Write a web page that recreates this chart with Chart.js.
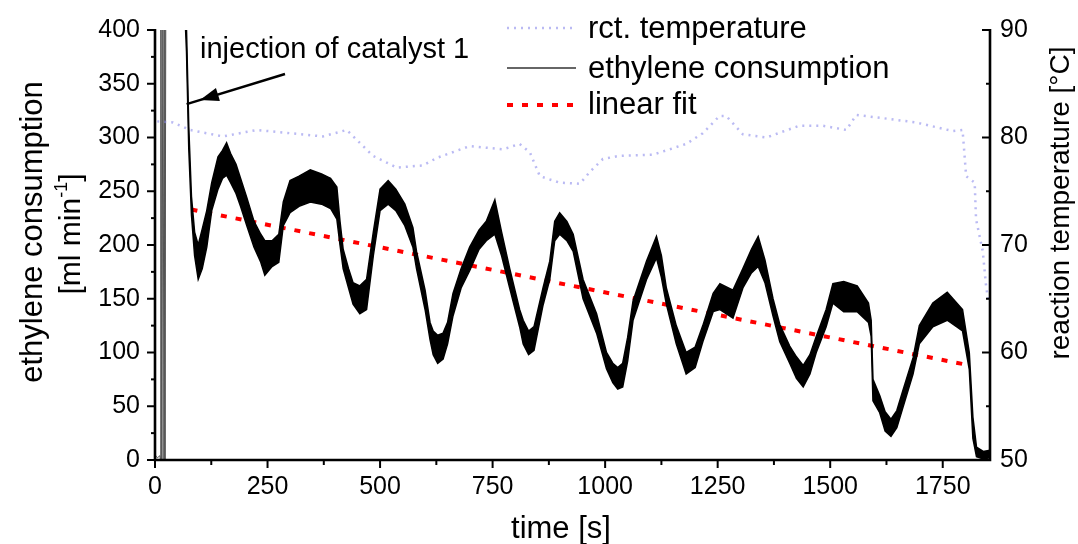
<!DOCTYPE html>
<html>
<head>
<meta charset="utf-8">
<script src="https://cdn.jsdelivr.net/npm/chart.js@4.4.1/dist/chart.umd.min.js"></script>
<style>
  html, body { margin: 0; padding: 0; background: #fff; }
  canvas { display: block; }
</style>
</head>
<body>
<canvas id="c" width="1078" height="544"></canvas>
<script>
// ── data ─────────────────────────────────────────────────────────
// start-up spikes before injection (thin grey lines)
const spikeTime = [0, 5, 11, 12, 13, 14, 16, 18, 20, 22, 24];
const spikeVal  = [5, 2, 4, 0, 420, 0, 420, 0, 420, 0, 420];

// ethylene consumption, noisy band: lower / upper edge
const timeE = [66, 70, 75, 81, 88, 96, 105, 115, 126, 140, 150, 159, 168, 180, 190, 204, 220, 235, 244, 260,
  275, 285, 300, 320, 345, 370, 390, 404, 411, 418, 430, 440, 455, 470, 485, 500, 518, 535, 555, 573,
  581, 600, 611, 618, 628, 640, 650, 662, 680, 699, 720, 736, 755, 770, 788, 810, 818, 830, 842, 862,
  877, 888, 899, 915, 929, 951, 981, 1003, 1017, 1028, 1039, 1050, 1062, 1092, 1114, 1125, 1136, 1158, 1180, 1200,
  1217, 1240, 1255, 1284, 1306, 1325, 1340, 1355, 1373, 1388, 1410, 1425, 1440, 1455, 1469, 1491, 1506, 1530, 1560, 1585,
  1591, 1595, 1610, 1622, 1635, 1648, 1661, 1684, 1698, 1728, 1760, 1794, 1809, 1817, 1825, 1840, 1855];
const lowE = [420, 380, 290, 228, 190, 168, 178, 198, 232, 252, 262, 265, 258, 248, 236, 218, 198, 184, 172, 180,
  184, 218, 230, 236, 240, 238, 234, 224, 200, 178, 160, 145, 136, 140, 190, 232, 238, 232, 218, 198,
  178, 140, 112, 98, 90, 94, 108, 134, 160, 176, 196, 204, 210, 190, 160, 124, 108, 98, 102, 144,
  168, 204, 210, 204, 194, 150, 118, 85, 72, 66, 68, 92, 130, 168, 188, 170, 145, 108, 80, 86,
  110, 138, 140, 132, 160, 174, 180, 165, 134, 110, 90, 76, 68, 80, 100, 124, 146, 138, 138, 128,
  115, 55, 44, 27, 22, 30, 48, 80, 108, 124, 130, 120, 84, 20, 3, 1, 2];
const highE = [430, 400, 310, 245, 212, 200, 215, 232, 258, 282, 288, 295, 285, 275, 262, 244, 222, 210, 204, 204,
  210, 240, 260, 264, 270, 266, 262, 254, 222, 196, 178, 165, 162, 168, 212, 252, 260, 252, 238, 216,
  194, 158, 128, 120, 116, 118, 128, 155, 178, 198, 214, 222, 242, 212, 178, 140, 130, 120, 124, 160,
  185, 222, 230, 222, 210, 168, 136, 100, 90, 86, 90, 114, 148, 185, 208, 190, 160, 125, 100, 105,
  125, 155, 164, 158, 178, 196, 208, 186, 150, 126, 106, 96, 88, 98, 115, 140, 164, 166, 162, 146,
  130, 75, 60, 45, 38, 46, 64, 95, 125, 146, 156, 140, 100, 40, 12, 8, 9];

// reaction temperature (right axis, °C)
const timeT = [5, 40, 78, 151, 226, 300, 373, 426, 484, 537, 595, 626, 699, 773, 810, 833, 855, 899, 944, 966,
  995, 1032, 1106, 1180, 1217, 1254, 1269, 1306, 1358, 1432, 1483, 1536, 1558, 1617, 1691, 1772, 1794, 1798, 1802, 1821,
  1824, 1839, 1846, 1852];
const tempT = [81.5, 81.4, 80.7, 80.1, 80.7, 80.4, 80.1, 80.7, 78.3, 77.2, 77.4, 78.1, 79.2, 78.9, 79.4, 78.6, 76.4, 75.8, 75.7, 76.8,
  78.0, 78.3, 78.4, 79.4, 80.4, 82.0, 82.0, 80.3, 80.0, 81.1, 81.1, 80.7, 82.1, 81.8, 81.4, 80.6, 80.7, 78.6, 76.4, 75.8,
  72.4, 69.4, 66.3, 64.5];

// linear fit end points
const fitTime = [81, 1798];
const fitVal  = [233, 89];

const xTicks  = [0, 250, 500, 750, 1000, 1250, 1500, 1750];
const yTicks  = [0, 50, 100, 150, 200, 250, 300, 350, 400];
const y2Ticks = [50, 60, 70, 80, 90];

const legendItems = ['rct. temperature', 'ethylene consumption', 'linear fit'];

// ── helpers ──────────────────────────────────────────────────────
const pts = (xs, ys) => xs.map((t, i) => ({ x: t, y: ys[i] }));
const FONT = '"Liberation Sans", Arial, Helvetica, sans-serif';
const TEMP_COLOR = 'rgba(140,140,235,0.6)';

Chart.defaults.font.family = FONT;
Chart.defaults.color = '#000';

// axis lines, tick marks, titles, legend, annotation
const decor = {
  id: 'decor',
  afterDraw(chart) {
    const { ctx, chartArea: a, scales: { x, y, y2 } } = chart;
    const seg = (x1, y1, x2, y2_) => { ctx.beginPath(); ctx.moveTo(x1, y1); ctx.lineTo(x2, y2_); ctx.stroke(); };
    ctx.save();
    ctx.strokeStyle = '#000';
    ctx.lineCap = 'butt';

    // ticks
    ctx.lineWidth = 2;
    x.ticks.forEach(t => {
      const p = x.getPixelForValue(t.value);
      seg(p, a.bottom, p, a.bottom + (xTicks.includes(t.value) ? 8 : 5));
    });
    y.ticks.forEach(t => {
      const p = y.getPixelForValue(t.value);
      seg(a.left, p, a.left - (yTicks.includes(t.value) ? 8 : 4), p);
    });
    y2.ticks.forEach(t => {
      const p = y2.getPixelForValue(t.value);
      seg(a.right, p, a.right - (y2Ticks.includes(t.value) ? 8 : 4), p);
    });

    // axis lines (no top frame)
    ctx.lineWidth = 2.6;
    ctx.beginPath();
    ctx.moveTo(a.left, a.top - 1);
    ctx.lineTo(a.left, a.bottom);
    ctx.lineTo(a.right, a.bottom);
    ctx.lineTo(a.right, a.top - 1);
    ctx.stroke();

    // axis titles
    ctx.fillStyle = '#000';
    ctx.textAlign = 'center';
    ctx.textBaseline = 'alphabetic';
    ctx.font = `31px ${FONT}`;
    ctx.fillText('time [s]', 561, 538);

    ctx.save();
    ctx.translate(42, 232);
    ctx.rotate(-Math.PI / 2);
    ctx.fillText('ethylene consumption', 0, 0);
    ctx.restore();

    // second line with superscript -1
    ctx.save();
    ctx.translate(80, 234);
    ctx.rotate(-Math.PI / 2);
    const main = '[ml min', sup = '-1', tail = ']';
    ctx.font = `30px ${FONT}`;
    const wMain = ctx.measureText(main).width, wTail = ctx.measureText(tail).width;
    ctx.font = `18px ${FONT}`;
    const wSup = ctx.measureText(sup).width;
    let cx = -(wMain + wSup + wTail) / 2;
    ctx.textAlign = 'left';
    ctx.font = `30px ${FONT}`;
    ctx.fillText(main, cx, 0); cx += wMain;
    ctx.font = `18px ${FONT}`;
    ctx.fillText(sup, cx, -13); cx += wSup;
    ctx.font = `30px ${FONT}`;
    ctx.fillText(tail, cx, 0);
    ctx.restore();

    ctx.save();
    ctx.textAlign = 'center';
    ctx.font = `28px ${FONT}`;
    ctx.translate(1069, 203);
    ctx.rotate(-Math.PI / 2);
    ctx.fillText('reaction temperature [°C]', 0, 0);
    ctx.restore();

    // legend
    const lx0 = 507, lx1 = 576, tx = 588;
    const rows = [
      { yl: 28, yt: 38, dash: [2, 5], w: 2.5, c: TEMP_COLOR },
      { yl: 68, yt: 78, dash: [], w: 1.5, c: '#333' },
      { yl: 105, yt: 114, dash: [6, 9], w: 4, c: '#ff0000' }
    ];
    rows.forEach((r, i) => {
      ctx.save();
      ctx.strokeStyle = r.c; ctx.lineWidth = r.w; ctx.setLineDash(r.dash);
      seg(lx0, r.yl, lx1, r.yl);
      ctx.restore();
      ctx.textAlign = 'left';
      ctx.font = `31px ${FONT}`;
      ctx.fillText(legendItems[i], tx, r.yt);
    });

    // annotation with arrow
    ctx.font = `29px ${FONT}`;
    ctx.textAlign = 'left';
    ctx.fillText('injection of catalyst 1', 200, 58);
    const ax0 = 285, ay0 = 74, ax1 = 200, ay1 = 100;
    const ang = Math.atan2(ay1 - ay0, ax1 - ax0);
    ctx.lineWidth = 2.5;
    seg(ax0, ay0, ax1 + 14 * Math.cos(ang), ay1 + 14 * Math.sin(ang));
    ctx.beginPath();
    ctx.moveTo(ax1, ay1);
    ctx.lineTo(ax1 - 20 * Math.cos(ang - 0.35), ay1 - 20 * Math.sin(ang - 0.35));
    ctx.lineTo(ax1 - 20 * Math.cos(ang + 0.35), ay1 - 20 * Math.sin(ang + 0.35));
    ctx.closePath();
    ctx.fill();

    ctx.restore();
  }
};

new Chart(document.getElementById('c'), {
  type: 'line',
  data: {
    datasets: [
      { label: 'rct. temperature', data: pts(timeT, tempT), yAxisID: 'y2', borderColor: TEMP_COLOR, borderWidth: 2.5, borderDash: [2, 5], pointRadius: 0, fill: false },
      { label: 'start', data: pts(spikeTime, spikeVal), yAxisID: 'y', borderColor: '#555', borderWidth: 1, pointRadius: 0, fill: false },
      { label: 'ethylene low', data: pts(timeE, lowE), yAxisID: 'y', borderColor: '#000', borderWidth: 1.5, pointRadius: 0, fill: false },
      { label: 'ethylene consumption', data: pts(timeE, highE), yAxisID: 'y', borderColor: '#000', borderWidth: 1.5, pointRadius: 0, fill: '-1', backgroundColor: '#000' },
      { label: 'linear fit', data: pts(fitTime, fitVal), yAxisID: 'y', borderColor: '#ff0000', borderWidth: 4, borderDash: [6, 9], pointRadius: 0, fill: false }
    ]
  },
  options: {
    responsive: false,
    animation: false,
    devicePixelRatio: 1,
    layout: { padding: { top: 27, left: 0, right: 0, bottom: 0 } },
    plugins: { legend: { display: false }, tooltip: { enabled: false } },
    scales: {
      x: {
        type: 'linear', min: 0, max: 1855,
        grid: { display: false, drawTicks: false },
        border: { display: false },
        afterBuildTicks: s => { s.ticks = s.ticks.filter(t => t.value % 125 === 0); },
        afterFit: s => { s.height = 84; },
        ticks: { stepSize: 125, includeBounds: false, padding: 12, maxRotation: 0, autoSkip: false, font: { size: 25 },
          callback: v => xTicks.includes(v) ? String(v) : '' }
      },
      y: {
        position: 'left', min: 0, max: 400,
        grid: { display: false, drawTicks: false },
        border: { display: false },
        afterBuildTicks: s => { s.ticks = s.ticks.filter(t => t.value % 25 === 0); },
        afterFit: s => { s.width = 155; },
        ticks: { stepSize: 25, padding: 15, autoSkip: false, font: { size: 25 },
          callback: v => yTicks.includes(v) ? String(v) : '' }
      },
      y2: {
        position: 'right', min: 50, max: 90,
        grid: { display: false, drawTicks: false },
        border: { display: false },
        afterBuildTicks: s => { s.ticks = s.ticks.filter(t => t.value % 5 === 0); },
        afterFit: s => { s.width = 88; },
        ticks: { stepSize: 5, padding: 10, autoSkip: false, font: { size: 25 },
          callback: v => y2Ticks.includes(v) ? String(v) : '' }
      }
    }
  },
  plugins: [decor]
});
</script>
</body>
</html>
